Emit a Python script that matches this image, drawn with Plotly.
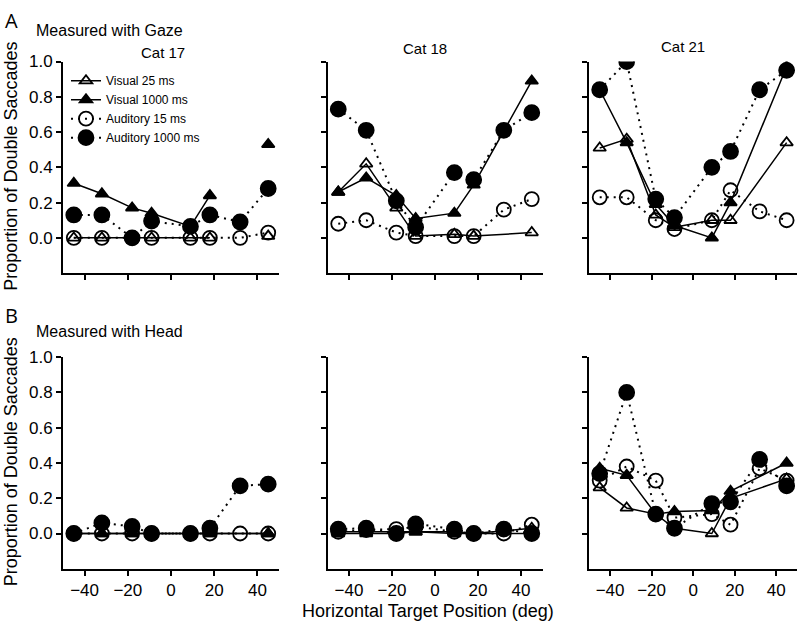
import plotly.graph_objects as go

# ---------------- data ----------------
positions = [-45, -32, -18, -9, 9, 18, 32, 45]
series_names = ["Visual 25 ms", "Visual 1000 ms", "Auditory 15 ms", "Auditory 1000 ms"]
cat_titles = ["Cat 17", "Cat 18", "Cat 21"]
row_titles = ["Measured with Gaze", "Measured with Head"]
panel_letters = ["A", "B"]
y_ticks = [0.0, 0.2, 0.4, 0.6, 0.8, 1.0]
x_ticks = [-40, -20, 0, 20, 40]

# Measured with gaze
gaze_c17_vis25 = [0.0, 0.0, 0.0, 0.0, 0.0, 0.0, None, 0.01]
gaze_c17_vis1000 = [0.31, 0.25, 0.17, 0.14, 0.065, 0.24, None, 0.53]
gaze_c17_aud15 = [0.0, 0.0, 0.0, 0.0, 0.0, 0.0, 0.0, 0.03]
gaze_c17_aud1000 = [0.13, 0.13, 0.0, 0.095, 0.065, 0.13, 0.09, 0.28]

gaze_c18_vis25 = [0.26, 0.42, 0.17, 0.01, 0.02, 0.01, None, 0.03]
gaze_c18_vis1000 = [0.26, 0.34, 0.24, 0.11, 0.14, 0.30, None, 0.89]
gaze_c18_aud15 = [0.08, 0.10, 0.03, 0.01, 0.01, 0.01, 0.16, 0.22]
gaze_c18_aud1000 = [0.73, 0.61, 0.21, 0.06, 0.37, 0.33, 0.61, 0.71]

gaze_c21_vis25 = [0.51, 0.56, 0.13, 0.06, 0.10, 0.10, None, 0.54]
gaze_c21_vis1000 = [0.84, 0.54, 0.19, 0.07, 0.0, 0.20, None, 0.97]
gaze_c21_aud15 = [0.23, 0.23, 0.10, 0.05, 0.10, 0.27, 0.15, 0.10]
gaze_c21_aud1000 = [0.84, 1.0, 0.22, 0.115, 0.40, 0.49, 0.84, 0.95]

# Measured with head
head_c17_vis25 = [0.0, 0.0, 0.0, 0.0, 0.0, 0.0, None, 0.0]
head_c17_vis1000 = [0.0, 0.0, 0.0, 0.0, 0.0, 0.0, None, 0.0]
head_c17_aud15 = [0.0, 0.0, 0.0, 0.0, 0.0, 0.0, 0.0, 0.0]
head_c17_aud1000 = [0.0, 0.06, 0.04, 0.0, 0.0, 0.03, 0.27, 0.28]

head_c18_vis25 = [0.01, 0.01, 0.01, 0.01, 0.01, 0.0, None, 0.03]
head_c18_vis1000 = [0.0, 0.0, 0.0, 0.01, 0.0, 0.0, None, 0.0]
head_c18_aud15 = [0.01, 0.02, 0.025, 0.04, 0.01, 0.0, 0.0, 0.05]
head_c18_aud1000 = [0.025, 0.03, 0.0, 0.055, 0.025, 0.0, 0.025, 0.0]

head_c21_vis25 = [0.26, 0.145, 0.11, 0.03, 0.0, 0.20, None, 0.31]
head_c21_vis1000 = [0.37, 0.33, 0.11, 0.125, 0.13, 0.24, None, 0.40]
head_c21_aud15 = [0.30, 0.38, 0.30, 0.09, 0.11, 0.05, 0.37, 0.30]
head_c21_aud1000 = [0.34, 0.80, 0.11, 0.03, 0.17, 0.18, 0.42, 0.27]

panels = [
    [[gaze_c17_vis25, gaze_c17_vis1000, gaze_c17_aud15, gaze_c17_aud1000],
     [gaze_c18_vis25, gaze_c18_vis1000, gaze_c18_aud15, gaze_c18_aud1000],
     [gaze_c21_vis25, gaze_c21_vis1000, gaze_c21_aud15, gaze_c21_aud1000]],
    [[head_c17_vis25, head_c17_vis1000, head_c17_aud15, head_c17_aud1000],
     [head_c18_vis25, head_c18_vis1000, head_c18_aud15, head_c18_aud1000],
     [head_c21_vis25, head_c21_vis1000, head_c21_aud15, head_c21_aud1000]],
]

# ---------------- styles ----------------
W, H = 798, 622
FONT = "Liberation Sans, Arial, sans-serif"
styles = [
    dict(symbol="triangle-up-open", size=11, dash="solid", lw=1.5),
    dict(symbol="triangle-up", size=11, dash="solid", lw=1.5),
    dict(symbol="circle-open", size=14, dash="2px,5px", lw=2),
    dict(symbol="circle", size=15, dash="2px,5px", lw=2),
]

x_dom_px = [(63, 279), (327.5, 542.5), (589.3, 797)]
y_dom_px = [(53.3, 268), (353.3, 568)]

fig = go.Figure()

for r in range(2):
    for c in range(3):
        idx = r * 3 + c + 1
        xa = "x" if idx == 1 else f"x{idx}"
        ya = "y" if idx == 1 else f"y{idx}"
        connect = not (r == 0 and c == 0)
        for s, vals in enumerate(panels[r][c]):
            st = styles[s]
            fig.add_trace(go.Scatter(
                x=positions, y=vals, xaxis=xa, yaxis=ya,
                name=series_names[s], showlegend=(idx == 1),
                mode="lines+markers", connectgaps=connect,
                line=dict(color="black", width=st["lw"], dash=st["dash"]),
                marker=dict(symbol=st["symbol"], size=st["size"], color="black",
                            line=dict(color="black", width=1.8)),
            ))
        x0, x1 = x_dom_px[c]
        y0, y1 = y_dom_px[r]
        axcommon = dict(showline=True, linecolor="black", linewidth=2,
                        ticks="outside", ticklen=5, tickwidth=1.5, tickcolor="black",
                        showgrid=False, zeroline=False,
                        tickfont=dict(family=FONT, size=17, color="black"))
        fig.layout[("xaxis" if idx == 1 else f"xaxis{idx}")] = dict(
            domain=[x0 / W, x1 / W], range=[-50, 50], anchor=ya,
            tickvals=x_ticks, showticklabels=(r == 1), **axcommon)
        fig.layout[("yaxis" if idx == 1 else f"yaxis{idx}")] = dict(
            domain=[1 - y1 / H, 1 - y0 / H], range=[-0.2, 1.0], anchor=xa,
            tickvals=y_ticks, tickformat=".1f", showticklabels=(c == 0), **axcommon)

ann = []
def px_ann(text, x, y, size, xanchor="center", yanchor="middle", angle=0, family=FONT):
    ann.append(dict(text=text, x=x / W, y=1 - y / H, xref="paper", yref="paper",
                    xanchor=xanchor, yanchor=yanchor, textangle=angle, showarrow=False,
                    font=dict(family=family, size=size, color="black")))

px_ann(panel_letters[0], 3, 12, 20, xanchor="left", family="Open Sans, sans-serif")
px_ann(panel_letters[1], 3, 311, 20, xanchor="left", family="Open Sans, sans-serif")
px_ann(row_titles[0], 34, 22, 16, xanchor="left")
px_ann(row_titles[1], 34, 327, 16, xanchor="left")
px_ann(cat_titles[0], 162.5, 44, 15)
px_ann(cat_titles[1], 425, 40, 15)
px_ann(cat_titles[2], 683, 38, 15)
px_ann("Proportion of Double Saccades", 11, 160, 18, angle=-90)
px_ann("Proportion of Double Saccades", 11, 460, 18, angle=-90)
px_ann("Horizontal Target Position (deg)", 428, 611, 18)

fig.update_layout(
    width=W, height=H, margin=dict(l=0, r=0, t=0, b=0),
    paper_bgcolor="white", plot_bgcolor="white",
    annotations=ann,
    legend=dict(x=66 / W, y=1 - 58 / H, xanchor="left", yanchor="top",
                bgcolor="rgba(0,0,0,0)", font=dict(family=FONT, size=12, color="black"),
                tracegroupgap=0, itemwidth=30),
)

fig.write_html("out.html", config={"displayModeBar": False},
               post_script="document.body.style.margin='0px';document.body.style.padding='0px';")
